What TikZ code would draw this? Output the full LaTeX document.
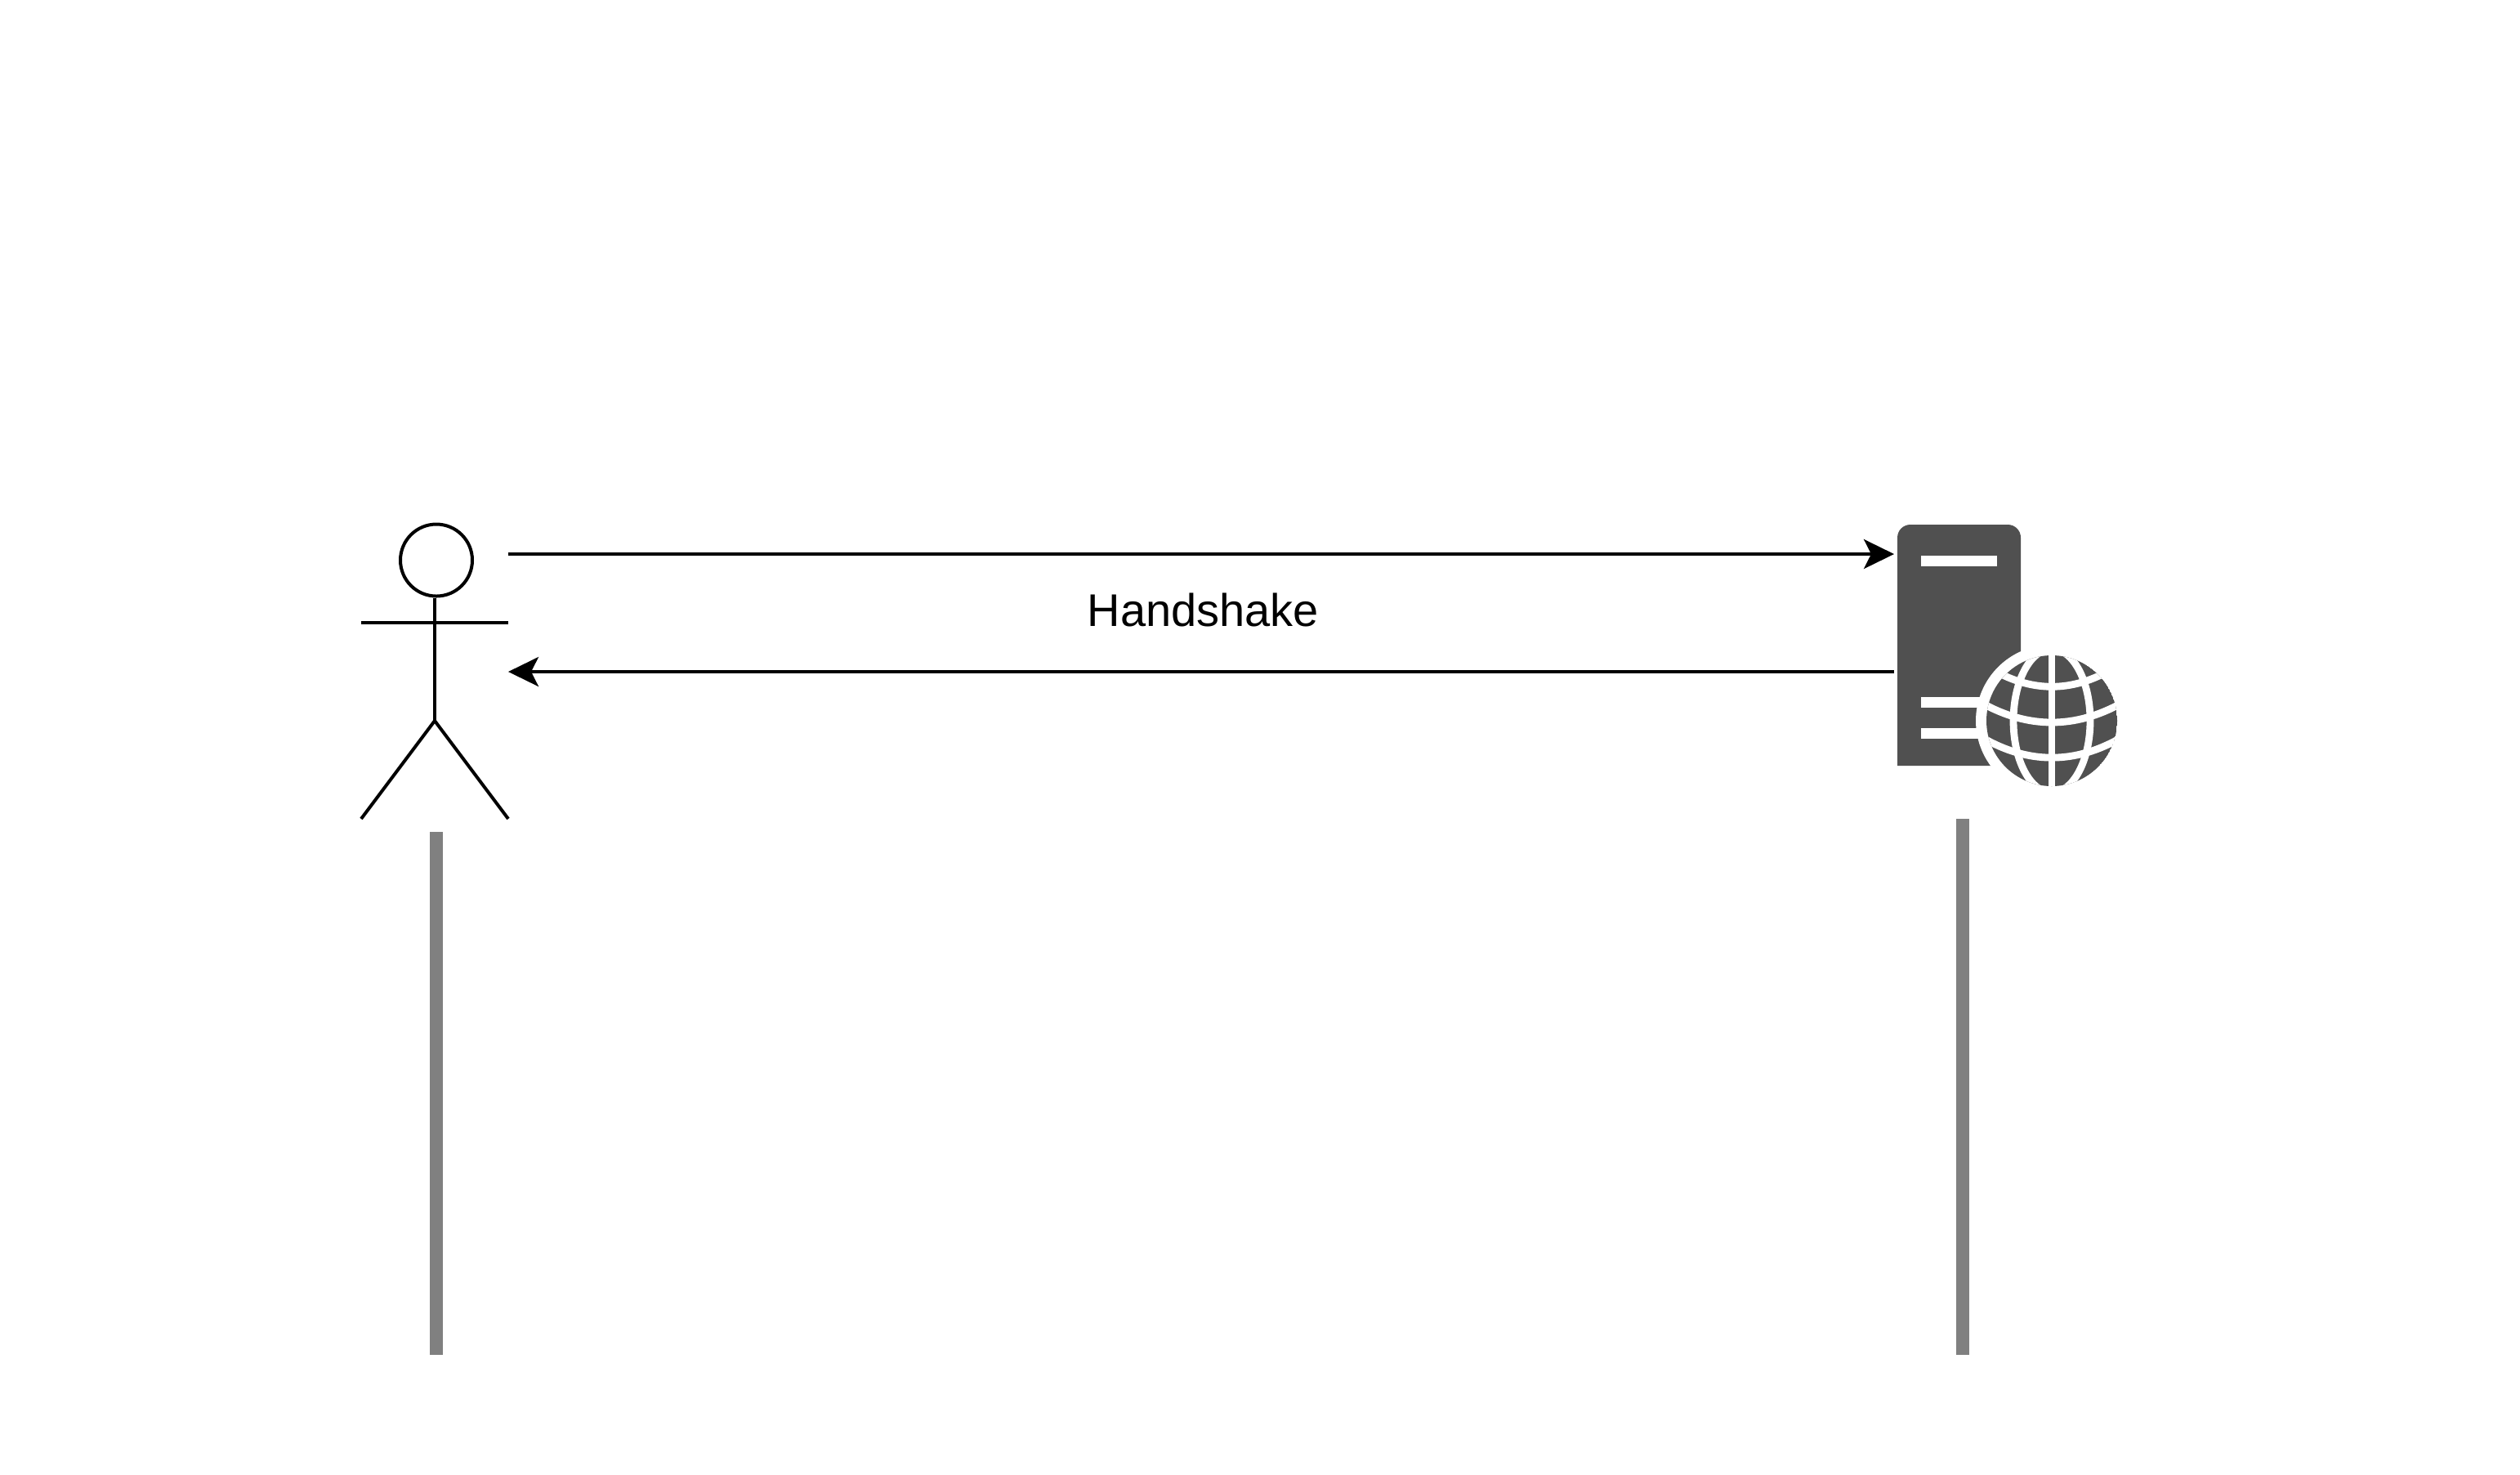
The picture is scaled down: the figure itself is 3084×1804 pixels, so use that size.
\documentclass[tikz,border=0pt]{standalone}
\usepackage{fontspec}
\setmainfont{Liberation Sans}
\usetikzlibrary{arrows.meta}
\definecolor{serverdark}{HTML}{505050}
\definecolor{lifeline}{HTML}{808080}
\tikzset{
  stick/.style={draw=black,line width=1pt},
  message/.style={draw=black,line width=1pt,-{Stealth[length=9.25pt,width=9pt,inset=2.25pt]}},
  lifebar/.style={draw=lifeline,line width=4pt},
  whitebar/.style={fill=white,draw=none},
  globeline/.style={draw=white,line width=2.2pt}
}
\begin{document}
\begin{tikzpicture}[x=0.25pt,y=-0.25pt]
\useasboundingbox[fill=white] (0,0) rectangle (3084,1804);
% named points
\coordinate (actorTop) at (622,678);
\coordinate (actorBottom) at (622,822);
\coordinate (serverTop) at (2318,678);
\coordinate (serverBottom) at (2318,822);
\coordinate (lifeAtop) at (534,1018);
\coordinate (lifeAend) at (534,1658);
\coordinate (lifeBtop) at (2402,1002);
\coordinate (lifeBend) at (2402,1658);
% actor
\node[circle,stick,fill=white,inner sep=0pt,outer sep=0pt,minimum size=22pt] (head) at (534,685.5) {};
\coordinate (neck) at (532,732);
\coordinate (hip) at (532,882);
\draw[stick] (neck) -- (hip);
\draw[stick] (442,762) -- (622,762);
\draw[stick] (442,1002) -- (hip) -- (622,1002);
% lifelines
\draw[lifebar] (lifeAtop) -- (lifeAend);
\draw[lifebar] (lifeBtop) -- (lifeBend);
% server
\fill[serverdark] (2322,937) -- (2322,658) .. controls (2322,649) and (2329,642) .. (2338,642) -- (2457,642) .. controls (2466,642) and (2473,649) .. (2473,658) -- (2473,937) -- cycle;
\fill[whitebar] (2351,680) rectangle (2444,692.5);
\fill[whitebar] (2351,852.5) rectangle (2440,865.5);
\fill[whitebar] (2351,891) rectangle (2440,904);
% globe
\coordinate (globe) at (2511,882);
\fill[white] (globe) circle [radius=93];
\begin{scope}
\clip (globe) circle [radius=80];
\fill[serverdark] (globe) circle [radius=80];
\draw[globeline] (2511,800) -- (2511,964);
\draw[globeline] (globe) ellipse [x radius=47,y radius=88];
\draw[globeline] (2445,823) .. controls (2489,846) and (2533,846) .. (2577,823);
\draw[globeline] (2425,860) .. controls (2482,892) and (2540,892) .. (2597,860);
\draw[globeline] (2425,902) .. controls (2482,935.5) and (2540,935.5) .. (2597,902);
\end{scope}
% messages
\draw[message] (actorTop) -- (serverTop);
\draw[message] (serverBottom) -- (actorBottom);
\node[anchor=base,inner sep=0pt,font=\fontsize{14pt}{16pt}\selectfont] (label) at (1472.5,766) {Handshake};
\end{tikzpicture}
\end{document}
